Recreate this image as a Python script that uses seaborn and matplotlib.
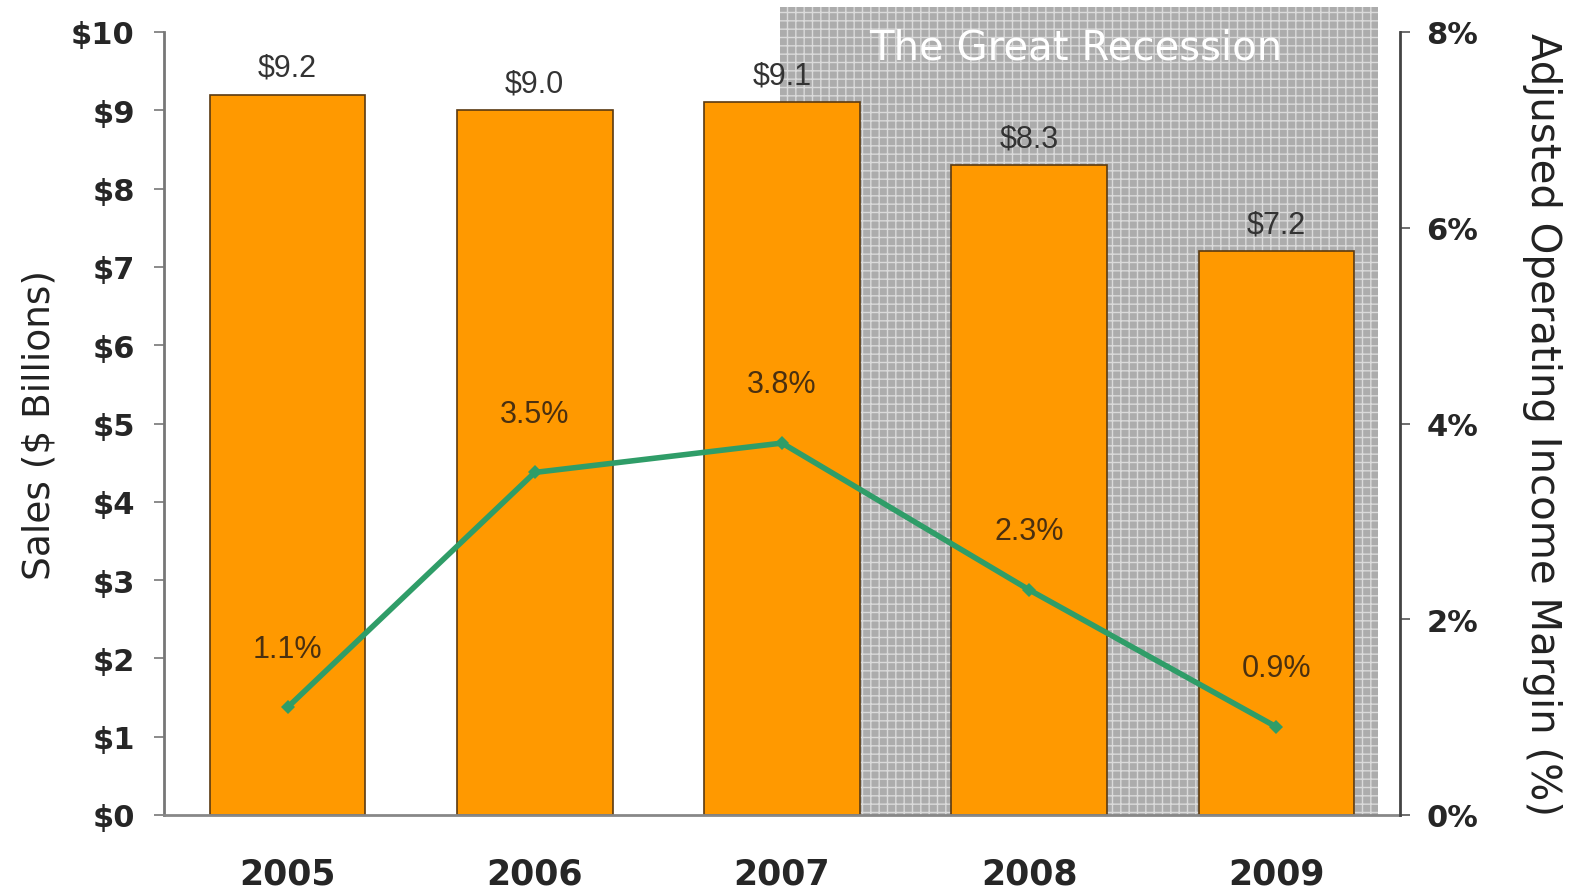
import matplotlib
matplotlib.use("Agg")
import matplotlib.pyplot as plt
import seaborn as sns
import numpy as np
import pandas as pd
from matplotlib.patches import Rectangle

# data
years = ["2005", "2006", "2007", "2008", "2009"]
sales = [9.2, 9.0, 9.1, 8.3, 7.2]
margin = [1.1, 3.5, 3.8, 2.3, 0.9]
sales_labels = ["$9.2", "$9.0", "$9.1", "$8.3", "$7.2"]
margin_labels = ["1.1%", "3.5%", "3.8%", "2.3%", "0.9%"]
recession_years = ["2007", "2009"]

sns.set_style("white")
plt.rcParams['font.family'] = ['DejaVu Sans']

fig = plt.figure(figsize=(15.79, 8.95), dpi=100)
W, H = 1579, 895
ax = fig.add_axes([164 / W, (H - 816) / H, (1400 - 164) / W, (816 - 33) / H])

df = pd.DataFrame({"year": years, "sales": sales})
sns.barplot(data=df, x="year", y="sales", color="#ff9900", width=0.63,
            saturation=1, edgecolor="#5a3a12", linewidth=1.2, ax=ax, zorder=2)
ax.set_xlim(-0.5, 4.5)
ax.set_ylim(0, 10)

# shaded recession area
x0 = years.index(recession_years[0]) - 0.01
x1 = years.index(recession_years[1]) + 0.41
shade = Rectangle((x0, 0), x1 - x0, 10.32, facecolor="#acacac", edgecolor="#dadada",
                  hatch="++", linewidth=0, zorder=1, clip_on=False)
ax.add_patch(shade)
ax.text((x0 + x1) / 2 - 0.01, 9.8, "The Great Recession", color="white", fontsize=29,
        ha="center", va="center", zorder=3)

for i, (v, lab) in enumerate(zip(sales, sales_labels)):
    ax.text(i, v + 0.15, lab, ha="center", va="bottom", fontsize=22,
            family="Liberation Sans", color="#333333", zorder=4)

ax.set_yticks(range(0, 11))
ax.set_yticklabels(["$%d" % v for v in range(0, 11)], fontweight="bold", fontsize=22)
ax.set_xticks(range(len(years)))
ax.set_xticklabels(years, fontweight="bold", fontsize=25)
ax.set_xticks(np.arange(0.5, 4.5, 1), minor=True)
ax.tick_params(axis="x", which="major", length=0, pad=30)
ax.tick_params(axis="x", which="minor", length=9, width=1.2, color="#555555", direction="out")
ax.tick_params(axis="y", length=7, width=1.2, color="#777777", direction="out", pad=14)
ax.set_xlabel("")
ax.set_ylabel("Sales ($ Billions)", fontsize=27, labelpad=10, color="#222222")
for s in ["top", "right"]:
    ax.spines[s].set_visible(False)
ax.spines["left"].set_color("#777777")
ax.spines["left"].set_linewidth(2)
ax.spines["bottom"].set_color("#888888")
ax.spines["bottom"].set_linewidth(2)

ax2 = ax.twinx()
xs = np.arange(len(years))
sns.lineplot(x=xs, y=margin, ax=ax2, color="#2f9d68", linewidth=4,
             marker="D", markersize=7, markeredgewidth=0, zorder=5)
ax2.set_ylim(0, 8)
ax2.set_xlim(-0.5, 4.5)
for i, (v, lab) in enumerate(zip(margin, margin_labels)):
    ax2.text(i, v + 0.6, lab, ha="center", va="center", fontsize=22,
             family="Liberation Sans", color="#4a3010", zorder=6)
ax2.set_yticks(range(0, 9, 2))
ax2.set_yticklabels(["%d%%" % v for v in range(0, 9, 2)], fontweight="bold", fontsize=22)
ax2.tick_params(axis="y", length=7, width=1.2, color="#555555", direction="out", pad=12)
ax2.set_ylabel("Adjusted Operating Income Margin (%)", fontsize=29, rotation=270,
               labelpad=60, color="#222222")
for s in ["top", "left", "bottom"]:
    ax2.spines[s].set_visible(False)
ax2.spines["right"].set_visible(True)
ax2.spines["right"].set_color("#444444")
ax2.spines["right"].set_linewidth(2)

fig.savefig("out.png", dpi=100)
